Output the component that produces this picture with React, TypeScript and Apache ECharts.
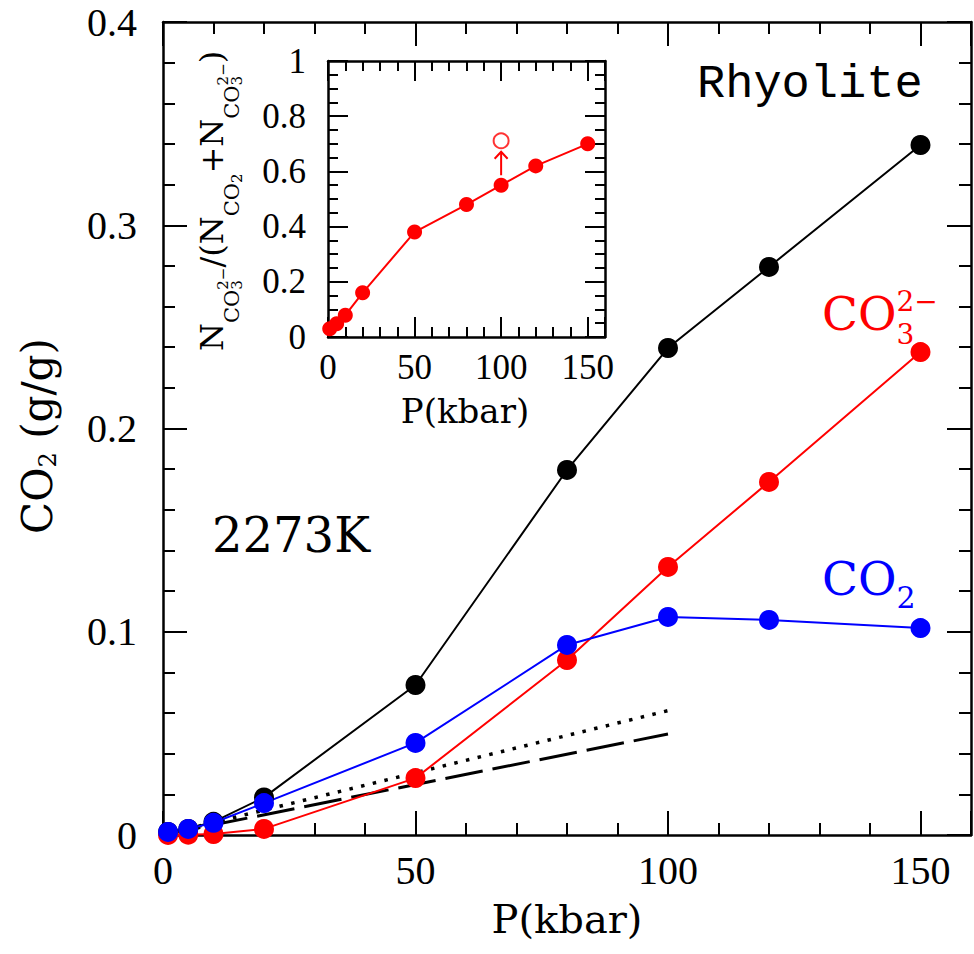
import { useEffect, useRef } from "react";
import * as echarts from "echarts";

// Pressure steps (kbar) of the 2273 K rhyolite melt runs
const pressure = [1, 5, 10, 20, 50, 80, 100, 120, 150];
// Dissolved CO2 (g/g): total, as carbonate ions and as molecular CO2
const totalCO2 = [0.0015, 0.003, 0.0065, 0.0185, 0.0738, 0.1796, 0.2396, 0.2795, 0.3395];
const carbonateCO2 = [0.00005, 0.00015, 0.0005, 0.003, 0.028, 0.0861, 0.1319, 0.1737, 0.2376];
const molecularCO2 = [0.0015, 0.003, 0.006, 0.0157, 0.0453, 0.0935, 0.1073, 0.1058, 0.1018];
// Reference solubility trends
const dottedTrend = [[0, 0], [100, 0.0612]];
const dashedTrend = [[0, 0], [100, 0.0497]];
// Inset: carbonate fraction N(CO3 2-)/(N(CO2)+N(CO3 2-))
const carbonateFraction = [0.03, 0.048, 0.079, 0.16, 0.38, 0.48, 0.55, 0.62, 0.7];
const correctedPoint = [[100, 0.711]];
const correctionArrow = [[100, 0.586, 0.671]];

const mainXTicks = [0, 50, 100, 150];
const mainYTicks = [0, 0.1, 0.2, 0.3, 0.4];

const SERIF = '"DejaVu Serif"';
const MONO = '"Liberation Mono"';
const NUM = '"Liberation Serif"';
// distance from the central line to the alphabetic baseline, in em
const BASE_K: Record<string, number> = { [SERIF]: 0.346, [MONO]: 0.266 };

type Run = { text: string; size: number; dy?: number; stack?: boolean };

function layoutRuns(runs: Run[], family: string, fill: string) {
  const ctx = document.createElement("canvas").getContext("2d")!;
  const k = BASE_K[family] ?? 0.34;
  let cursor = 0;
  let prevStart = 0;
  const children: any[] = [];
  for (const r of runs) {
    const font = `${r.size}px ${family}`;
    ctx.font = font;
    const w = ctx.measureText(r.text).width;
    const start = r.stack ? prevStart : cursor;
    children.push({
      type: "text",
      x: start,
      y: (r.dy ?? 0) - k * r.size,
      style: {
        text: r.text,
        font,
        fill,
        align: "left",
        verticalAlign: "middle",
        textAlign: "left",
        textVerticalAlign: "middle",
      },
    });
    cursor = r.stack ? Math.max(cursor, start + w) : start + w;
    prevStart = start;
  }
  return { children, width: cursor };
}

function textGroup(
  runs: Run[],
  family: string,
  fill: string,
  x: number,
  y: number,
  opts: { rotate?: boolean; center?: boolean } = {}
) {
  const { children, width } = layoutRuns(runs, family, fill);
  const shift = opts.center ? -width / 2 : 0;
  children.forEach((c) => (c.x += shift));
  return {
    type: "group",
    x,
    y,
    rotation: opts.rotate ? Math.PI / 2 : 0,
    children,
  };
}

// One labelled major axis plus tick-only axes for the minor marks and the opposite side
function tickAxes(
  gridIndex: number,
  sides: [string, string],
  min: number,
  max: number,
  major: number,
  minor: number,
  majorLen: number,
  minorLen: number,
  label: any
) {
  const axes: any[] = [];
  sides.forEach((side, si) => {
    [major, minor].forEach((iv, mi) => {
      axes.push({
        type: "value",
        gridIndex,
        position: side,
        min,
        max,
        interval: iv,
        axisLine: {
          show: mi === 0,
          onZero: false,
          lineStyle: { color: "#000", width: 2.5 },
        },
        splitLine: { show: false },
        axisTick: {
          show: true,
          inside: true,
          length: mi === 0 ? majorLen : minorLen,
          lineStyle: { color: "#000", width: 2 },
        },
        axisLabel: si === 0 && mi === 0 ? label : { show: false },
      });
    });
  });
  return axes;
}

export default function App() {
  const ref = useRef<HTMLDivElement>(null);

  useEffect(() => {
    document.body.style.margin = "0";
    const chart = echarts.init(ref.current!, null, { renderer: "svg" });

    const mainXLabel = {
      show: true,
      fontFamily: NUM,
      fontSize: 40,
      color: "#000",
      margin: 15,
      formatter: (v: number) => (mainXTicks.includes(v) ? String(v) : ""),
    };
    const mainYLabel = {
      show: true,
      fontFamily: NUM,
      fontSize: 40,
      color: "#000",
      margin: 26,
      formatter: (v: number) => {
        const t = mainYTicks.find((m) => Math.abs(m - v) < 1e-9);
        return t === undefined ? "" : t === 0 ? "0" : t.toFixed(1);
      },
    };
    const insetXLabel = {
      show: true,
      fontFamily: NUM,
      fontSize: 35,
      color: "#000",
      margin: 13,
      formatter: (v: number) => (v > 150 ? "" : String(v)),
    };
    const insetYLabel = {
      show: true,
      fontFamily: NUM,
      fontSize: 35,
      color: "#000",
      margin: 22,
      formatter: (v: number) => (v === 0 ? "0" : v === 1 ? "1" : v.toFixed(1)),
    };

    const xAxes = [
      ...tickAxes(0, ["bottom", "top"], 0, 160, 50, 10, 24, 12, mainXLabel),
      ...tickAxes(1, ["bottom", "top"], 0, 160, 50, 10, 20, 10, insetXLabel),
    ];
    const yAxes = [
      ...tickAxes(0, ["left", "right"], 0, 0.4, 0.1, 0.02, 24, 12, mainYLabel),
      ...tickAxes(1, ["left", "right"], 0, 1, 0.2, 0.05, 20, 10, insetYLabel),
    ];

    const zip = (ys: number[]) => pressure.map((p, i) => [p, ys[i]]);
    const pointSeries = (name: string, ys: number[], color: string) => ({
      name,
      type: "line",
      xAxisIndex: 0,
      yAxisIndex: 0,
      data: zip(ys),
      symbol: "circle",
      symbolSize: 20,
      lineStyle: { color, width: 2 },
      itemStyle: { color },
    });

    const fractionLabel: Run[] = [
      { text: "N", size: 32 },
      { text: "CO", size: 21, dy: 16 },
      { text: "2−", size: 15, dy: 5 },
      { text: "3", size: 15, dy: 19, stack: true },
      { text: "/(", size: 32 },
      { text: "N", size: 32 },
      { text: "CO", size: 21, dy: 16 },
      { text: "2", size: 15, dy: 19 },
      { text: "+", size: 32 },
      { text: "N", size: 32 },
      { text: "CO", size: 21, dy: 16 },
      { text: "2−", size: 15, dy: 5 },
      { text: "3", size: 15, dy: 19, stack: true },
      { text: ")", size: 32 },
    ];

    chart.setOption({
      animation: false,
      backgroundColor: "#fff",
      grid: [
        { left: 163, top: 22, width: 809, height: 813 },
        {
          left: 328,
          top: 61,
          width: 277,
          height: 276,
          show: true,
          borderWidth: 0,
          backgroundColor: "#fff",
        },
      ],
      xAxis: xAxes,
      yAxis: yAxes,
      series: [
        {
          type: "line",
          xAxisIndex: 0,
          yAxisIndex: 0,
          data: dottedTrend,
          showSymbol: false,
          lineStyle: { color: "#000", width: 3.5, type: [3.5, 8.5] },
        },
        {
          type: "line",
          xAxisIndex: 0,
          yAxisIndex: 0,
          data: dashedTrend,
          showSymbol: false,
          lineStyle: { color: "#000", width: 3, type: [38, 10] },
        },
        pointSeries("total", totalCO2, "#000"),
        pointSeries("carbonate", carbonateCO2, "#ff0000"),
        pointSeries("molecular", molecularCO2, "#0000ff"),
        {
          type: "line",
          xAxisIndex: 4,
          yAxisIndex: 4,
          data: zip(carbonateFraction),
          symbol: "circle",
          symbolSize: 15,
          lineStyle: { color: "#ff0000", width: 2 },
          itemStyle: { color: "#ff0000" },
        },
        {
          type: "scatter",
          xAxisIndex: 4,
          yAxisIndex: 4,
          data: correctedPoint,
          symbol: "circle",
          symbolSize: 15,
          itemStyle: { color: "#fff", borderColor: "#ff0000", borderWidth: 2 },
        },
        {
          type: "custom",
          xAxisIndex: 4,
          yAxisIndex: 4,
          data: correctionArrow,
          renderItem: (_p: any, api: any) => {
            const a = api.coord([api.value(0), api.value(1)]);
            const b = api.coord([api.value(0), api.value(2)]);
            return {
              type: "group",
              children: [
                {
                  type: "line",
                  shape: { x1: a[0], y1: a[1], x2: b[0], y2: b[1] },
                  style: { stroke: "#ff0000", lineWidth: 2 },
                },
                {
                  type: "polyline",
                  shape: {
                    points: [
                      [b[0] - 6.5, b[1] + 7],
                      [b[0], b[1]],
                      [b[0] + 6.5, b[1] + 7],
                    ],
                  },
                  style: { stroke: "#ff0000", lineWidth: 2, fill: "none" },
                },
              ],
            };
          },
        },
      ],
      graphic: {
        elements: [
          textGroup([{ text: "Rhyolite", size: 47 }], MONO, "#000", 697, 97.5),
          textGroup([{ text: "2273K", size: 48 }], SERIF, "#000", 212, 552),
          textGroup(
            [
              { text: "CO", size: 47 },
              { text: "2−", size: 28, dy: -19 },
              { text: "3", size: 28, dy: 14, stack: true },
            ],
            SERIF,
            "#ff0000",
            822,
            330
          ),
          textGroup(
            [
              { text: "CO", size: 47 },
              { text: "2", size: 30, dy: 13 },
            ],
            SERIF,
            "#0000ff",
            822,
            595
          ),
          textGroup(
            [
              { text: "CO", size: 42 },
              { text: "2", size: 24, dy: 4 },
              { text: " (g/g)", size: 42 },
            ],
            SERIF,
            "#000",
            52,
            534,
            { rotate: true }
          ),
          textGroup([{ text: "P(kbar)", size: 40 }], SERIF, "#000", 567, 933, { center: true }),
          textGroup([{ text: "P(kbar)", size: 34 }], SERIF, "#000", 465, 423, { center: true }),
          textGroup(fractionLabel, SERIF, "#000", 223, 351, { rotate: true }),
        ],
      },
    });

    return () => chart.dispose();
  }, []);

  return <div ref={ref} style={{ width: 974, height: 954 }} />;
}
